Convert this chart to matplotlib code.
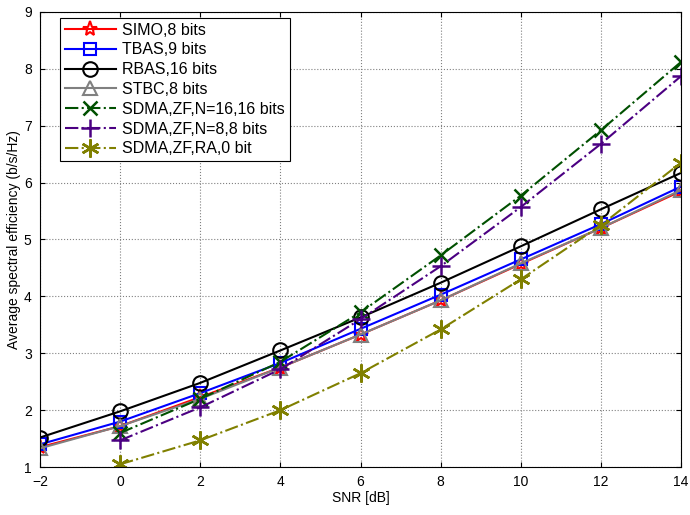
import matplotlib
matplotlib.use('Agg')
import matplotlib.pyplot as plt

plt.rcParams['font.family'] = ['Liberation Sans', 'DejaVu Sans']

snr = [-2, 0, 2, 4, 6, 8, 10, 12, 14]
snr_sdma = [0, 2, 4, 6, 8, 10, 12, 14]

simo = [1.35, 1.72, 2.23, 2.75, 3.33, 3.93, 4.57, 5.20, 5.85]
tbas = [1.40, 1.80, 2.30, 2.83, 3.43, 4.03, 4.65, 5.27, 5.93]
rbas = [1.52, 1.98, 2.48, 3.05, 3.63, 4.24, 4.88, 5.53, 6.17]
stbc = [1.33, 1.72, 2.20, 2.75, 3.33, 3.93, 4.58, 5.20, 5.87]
sdma16 = [1.60, 2.20, 2.85, 3.72, 4.72, 5.77, 6.92, 8.12]
sdma8 = [1.47, 2.05, 2.72, 3.60, 4.53, 5.57, 6.68, 7.87]
sdma_ra = [1.05, 1.47, 2.00, 2.65, 3.42, 4.30, 5.25, 6.35]

fig = plt.figure(figsize=(6.9, 5.15), dpi=100)
ax = fig.add_axes([0.058, 0.093, 0.929, 0.884])

ax.plot(snr, simo, '-', color='red', marker='*', ms=11, lw=1.5, mfc='none', mew=1.5, label='SIMO,8 bits')
ax.plot(snr, tbas, '-', color='blue', marker='s', ms=8, lw=1.5, mfc='none', mew=1.5, label='TBAS,9 bits')
ax.plot(snr, rbas, '-', color='black', marker='o', ms=10.5, lw=1.5, mfc='none', mew=1.5, label='RBAS,16 bits')
ax.plot(snr, stbc, '-', color='gray', marker='^', ms=10, lw=1.5, mfc='none', mew=1.5, label='STBC,8 bits')
ax.plot(snr_sdma, sdma16, '-.', color='#005000', marker='x', ms=10, lw=1.5, mew=1.8, label='SDMA,ZF,N=16,16 bits')
ax.plot(snr_sdma, sdma8, '-.', color='#4b0082', marker='+', ms=13, lw=1.5, mew=1.8, label='SDMA,ZF,N=8,8 bits')
ax.plot(snr_sdma, sdma_ra, '-.', color='#808000', marker=(6, 2, 0), ms=13, lw=1.5, mew=1.8, label='SDMA,ZF,RA,0 bit')

ax.set_xlim(-2, 14)
ax.set_ylim(1, 9)
ax.set_xticks(range(-2, 15, 2))
ax.set_xticklabels(['\u22122'] + [str(v) for v in range(0, 15, 2)])
ax.set_yticks(range(1, 10))
ax.grid(True, linestyle=':', color='gray', lw=0.8)
ax.tick_params(direction='in', labelsize=10, top=True, right=True)
ax.tick_params(axis='x', pad=6)
ax.tick_params(axis='y', pad=6)
ax.set_xlabel('SNR [dB]', fontsize=10, labelpad=1)
ax.set_ylabel('Average spectral efficiency (b/s/Hz)', fontsize=10, labelpad=2)

leg = ax.legend(loc='upper left', bbox_to_anchor=(0.031, 0.987), fontsize=11.5,
                fancybox=False, framealpha=1, edgecolor='black', borderaxespad=0,
                handlelength=3.2, handletextpad=0.4, labelspacing=0.3, borderpad=0.3)
leg.get_frame().set_linewidth(0.8)

fig.savefig('out.png', dpi=100)
